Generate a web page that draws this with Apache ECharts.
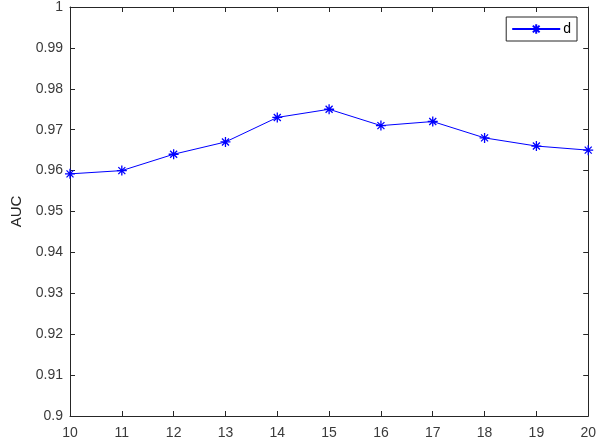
<!DOCTYPE html>
<html><head><meta charset="utf-8">
<script src="https://cdn.jsdelivr.net/npm/echarts@6/dist/echarts.min.js"></script>
<style>html,body{margin:0;padding:0;background:#fff}#c{width:599px;height:448px}</style>
</head><body><div id="c"></div>
<script>
const xValues = [10, 11, 12, 13, 14, 15, 16, 17, 18, 19, 20];
const aucD = [0.9592, 0.960, 0.964, 0.967, 0.973, 0.975, 0.971, 0.972, 0.968, 0.966, 0.965];
const seriesName = 'd';
const yLabel = 'AUC';

const axisColor = '#262626';
const labelColor = '#3a3a3a';
const font = 'Liberation Sans, Arial, Helvetica, sans-serif';
const star = 'path://M0,-1L0,1M-1,0L1,0M-0.7,-0.7L0.7,0.7M-0.7,0.7L0.7,-0.7';
const fmt = v => String(parseFloat(Number(v).toFixed(2)));

const chart = echarts.init(document.getElementById('c'), null, {renderer: 'canvas'});
const baseAxis = {
  axisLine: {show: true, onZero: false, lineStyle: {color: axisColor, width: 1}},
  axisTick: {show: true, inside: true, length: 5, lineStyle: {color: axisColor}},
  splitLine: {show: false}
};
chart.setOption({
  animation: false,
  backgroundColor: '#fff',
  grid: {left: 70, right: 8, top: 4, bottom: 32, containLabel: false},
  legend: {
    data: [seriesName], right: 22, top: 17,
    itemWidth: 48, itemHeight: 12, itemGap: 4,
    padding: [5, 6, 5, 5],
    borderColor: axisColor, borderWidth: 1, backgroundColor: '#fff',
    textStyle: {fontFamily: font, fontSize: 14, color: '#000', padding: [0,0,0,-2]}
  },
  xAxis: [
    Object.assign({type: 'value', min: 10, max: 20, interval: 1, position: 'bottom',
      axisLabel: {color: labelColor, fontFamily: font, fontSize: 14, margin: 10}}, baseAxis),
    Object.assign({type: 'value', min: 10, max: 20, interval: 1, position: 'top',
      axisLabel: {show: false}}, baseAxis)
  ],
  yAxis: [
    Object.assign({type: 'value', min: 0.9, max: 1, interval: 0.01, position: 'left',
      name: yLabel, nameLocation: 'middle', nameGap: 46,
      nameTextStyle: {color: axisColor, fontFamily: font, fontSize: 15},
      axisLabel: {color: labelColor, fontFamily: font, fontSize: 14, margin: 7, formatter: fmt}}, baseAxis),
    Object.assign({type: 'value', min: 0.9, max: 1, interval: 0.01, position: 'right',
      axisLabel: {show: false}}, baseAxis)
  ],
  series: [{
    name: seriesName, type: 'line',
    data: xValues.map((x, i) => [x, aucD[i]]),
    symbol: star, symbolSize: 10,
    lineStyle: {color: '#0000ff', width: 1},
    itemStyle: {color: '#0000ff', borderColor: '#0000ff', borderWidth: 1.3},
    clip: false
  }]
});
</script></body></html>
